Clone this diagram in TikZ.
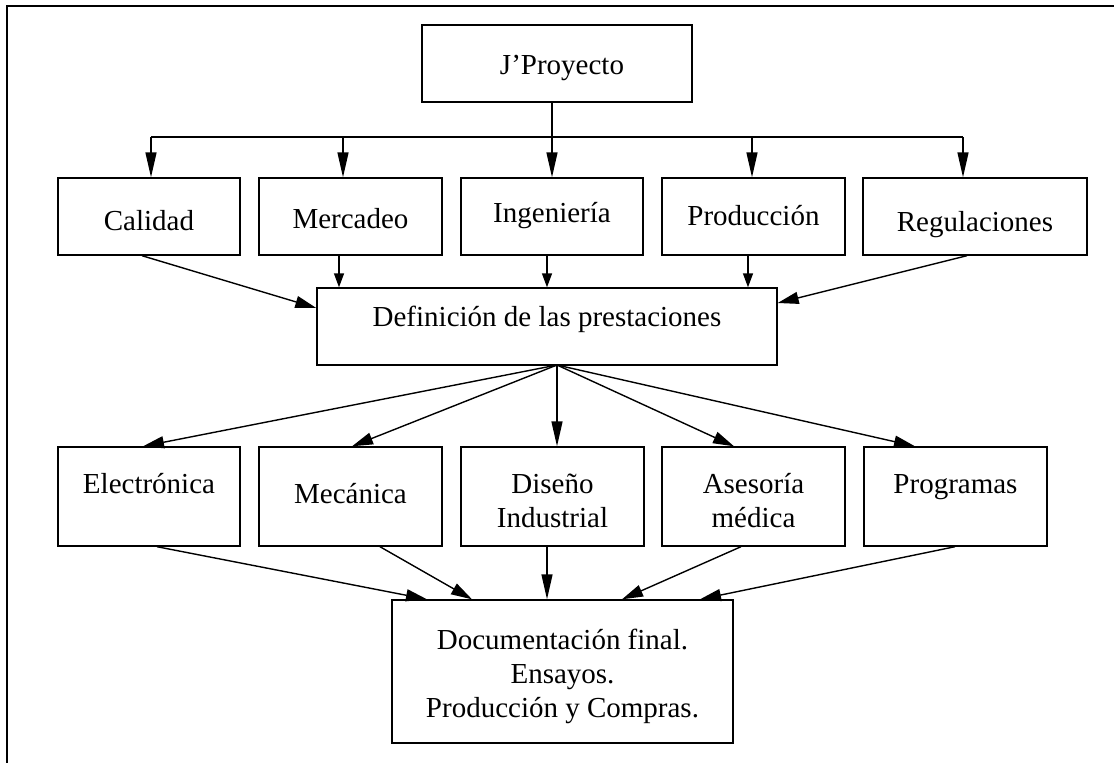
\documentclass[tikz,border=0pt]{standalone}
\usepackage{fontspec}
\setmainfont{Liberation Serif}
\usetikzlibrary{arrows.meta}
\begin{document}
\begin{tikzpicture}[x=1pt,y=-1pt,
  box/.style={draw,line width=1.4pt,inner sep=0pt},
  txt/.style={inner sep=0pt,anchor=base,align=center,font=\fontsize{29}{34}\selectfont},
  ln/.style={line width=1.4pt},
  arr/.style={line width=1.4pt,-{Triangle[length=21pt,width=12pt]}},
  arrs/.style={line width=1.4pt,-{Triangle[length=14pt,width=10pt]}},
  arrl/.style={line width=1.4pt,-{Triangle[length=25pt,width=11pt]}}]
\useasboundingbox (0,0) rectangle (1114,763);
\fill[white] (0,0) rectangle (1114,763);
% outer frame
\draw[line width=1.4pt] (7,763) -- (7,6) -- (1114,6);
% boxes
\node[box,minimum width=270pt,minimum height=77pt] (jp) at (557,63.5) {};
\node[box,minimum width=182pt,minimum height=77pt] (cal) at (149,216.5) {};
\node[box,minimum width=183pt,minimum height=77pt] (mer) at (350.5,216.5) {};
\node[box,minimum width=182pt,minimum height=77pt] (ing) at (552,216.5) {};
\node[box,minimum width=183pt,minimum height=77pt] (pro) at (753.5,216.5) {};
\node[box,minimum width=224pt,minimum height=77pt] (reg) at (975,216.5) {};
\node[box,minimum width=460pt,minimum height=77pt] (def) at (547,326.5) {};
\node[box,minimum width=182pt,minimum height=99pt] (ele) at (149,496.5) {};
\node[box,minimum width=183pt,minimum height=99pt] (mec) at (350.5,496.5) {};
\node[box,minimum width=183pt,minimum height=99pt] (dis) at (552.5,496.5) {};
\node[box,minimum width=183pt,minimum height=99pt] (ase) at (753.5,496.5) {};
\node[box,minimum width=183pt,minimum height=99pt] (prg) at (955.5,496.5) {};
\node[box,minimum width=341pt,minimum height=143pt] (fin) at (562.5,671.5) {};
% texts
\node[txt] (tjp) at (562,74) {J’Proyecto};
\node[txt] (tcal) at (149,230) {Calidad};
\node[txt] (tmer) at (350.5,228) {Mercadeo};
\node[txt] (ting) at (552,222) {Ingeniería};
\node[txt] (tpro) at (753.5,225) {Producción};
\node[txt] (treg) at (975,231) {Regulaciones};
\node[txt] (tdef) at (547,326) {Definición de las prestaciones};
\node[txt] (tele) at (149,493) {Electrónica};
\node[txt] (tmec) at (350.5,503) {Mecánica};
\node[txt] (tdis) at (552.5,527) {Diseño\\Industrial};
\node[txt] (tase) at (753.5,527) {Asesoría\\médica};
\node[txt] (tprg) at (955.5,493) {Programas};
\node[txt] (tfin) at (562.5,717) {Documentación final.\\Ensayos.\\Producción y Compras.};
% bus from J'Proyecto
\coordinate (b1) at (151,137);
\coordinate (b2) at (343,137);
\coordinate (b3) at (552,137);
\coordinate (b4) at (752,137);
\coordinate (b5) at (963,137);
\draw[ln] (jp.south -| b3) -- (b3);
\draw[ln] (b1) -- (b5);
\draw[arrl] (b1) -- (b1 |- cal.north);
\draw[arrl] (b2) -- (b2 |- mer.north);
\draw[arrl] (b3) -- (b3 |- ing.north);
\draw[arrl] (b4) -- (b4 |- pro.north);
\draw[arrl] (b5) -- (b5 |- reg.north);
% top row to definition
\draw[arr] (cal.south -| 142,0) -- (def.west |- 0,308);
\draw[arrs] (mer.south -| 339,0) -- (def.north -| 339,0);
\draw[arrs] (ing.south -| 547,0) -- (def.north -| 547,0);
\draw[arrs] (pro.south -| 748,0) -- (def.north -| 748,0);
\draw[arr] (reg.south -| 967,0) -- (def.east |- 0,303);
% definition to second row
\coordinate (h) at (557,365);
\draw[arr] (h) -- (ele.north -| 143,0);
\draw[arr] (h) -- (mec.north -| 352,0);
\draw[arrl] (h) -- (dis.north -| 557,0);
\draw[arr] (h) -- (ase.north -| 734,0);
\draw[arr] (h) -- (prg.north -| 915,0);
% second row to final
\draw[arr] (ele.south -| 157,0) -- (fin.north -| 427,0);
\draw[arr] (mec.south -| 380,0) -- (fin.north -| 472,0);
\draw[arrl] (dis.south -| 547,0) -- (fin.north -| 547,0);
\draw[arr] (ase.south -| 741,0) -- (fin.north -| 622,0);
\draw[arr] (prg.south -| 955,0) -- (fin.north -| 700,0);
\end{tikzpicture}
\end{document}
